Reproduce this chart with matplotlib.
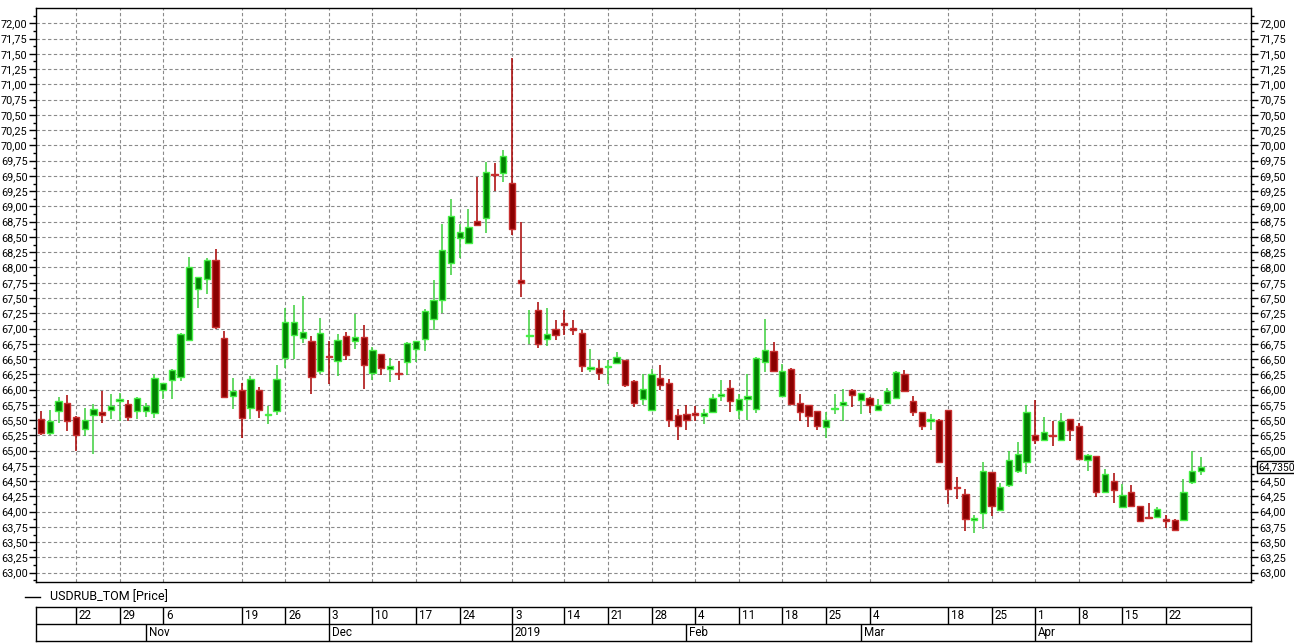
import matplotlib
matplotlib.use('Agg')
import matplotlib.pyplot as plt
import numpy as np
import pandas as pd
from matplotlib.ticker import MultipleLocator, FuncFormatter, FixedLocator, FixedFormatter
from matplotlib.transforms import blended_transform_factory

# ---------------- data ----------------
holidays = ['2018-11-05', '2018-12-31', '2019-01-01', '2019-01-02', '2019-01-07', '2019-03-08']
extra_days = ['2018-12-29']
_d = pd.bdate_range('2018-10-16', '2019-04-26')
_d = _d[~_d.isin(pd.to_datetime(holidays))].union(pd.to_datetime(extra_days))
dates = [d.strftime('%Y-%m-%d') for d in _d]

opens = [65.51, 65.29, 65.65, 65.78, 65.55, 65.36, 65.58, 65.64, 65.66, 65.82, 65.77, 65.65,
         65.65, 65.61, 65.99, 66.15, 66.21, 66.82, 67.64, 67.81, 68.12, 66.84, 65.89, 65.99,
         65.70, 66.00, 65.58, 65.65, 66.51, 66.89, 66.84, 66.80, 66.30,
         66.55, 66.47, 66.87, 66.79, 66.86, 66.27, 66.58, 66.34, 66.27, 66.46, 66.67, 66.83,
         67.16, 67.46, 68.08, 68.49, 68.40, 68.76, 68.81, 69.53, 69.55,
         69.39, 67.80, 66.87, 67.31, 66.83, 67.00, 67.09, 67.01, 66.92, 66.33, 66.35, 66.37,
         66.43, 66.48, 66.14, 65.84, 65.67, 66.19, 66.11, 65.58,
         65.60, 65.61, 65.56, 65.64, 65.90, 66.03, 65.67, 65.84, 65.68, 66.45, 66.64, 65.90,
         66.33, 65.78, 65.74, 65.65, 65.38, 65.68, 65.75, 66.00,
         65.83, 65.87, 65.66, 65.78, 65.87, 66.26, 65.82, 65.64, 65.48, 65.50, 65.66, 64.41,
         64.29, 63.86, 63.98, 64.65, 64.03, 64.43, 64.66, 64.81,
         65.25, 65.18, 65.26, 65.18, 65.52, 65.41, 64.85, 64.91, 64.33, 64.50, 64.07, 64.32,
         64.09, 63.92, 63.92, 63.88, 63.86, 63.87, 64.49, 64.66]
highs = [65.65, 65.66, 65.88, 65.91, 65.56, 65.70, 65.77, 65.98, 65.92, 65.95, 65.83, 65.88,
         65.78, 66.26, 66.11, 66.33, 66.92, 68.18, 67.85, 68.15, 68.30, 66.96, 66.19, 66.11,
         66.22, 66.04, 65.73, 66.40, 67.34, 67.38, 67.53, 66.88, 67.17,
         66.80, 66.91, 66.94, 67.24, 67.06, 66.69, 66.59, 66.52, 66.47, 66.78, 66.80, 67.32,
         67.79, 68.71, 69.13, 68.72, 68.96, 69.48, 69.73, 69.71, 69.93,
         71.44, 68.74, 67.31, 67.43, 67.33, 67.14, 67.31, 67.14, 66.97, 66.67, 66.49, 66.49,
         66.61, 66.49, 66.15, 66.26, 66.34, 66.41, 66.18, 65.68,
         65.75, 65.73, 65.68, 65.93, 66.15, 66.15, 65.93, 66.26, 66.53, 67.15, 66.78, 66.42,
         66.35, 65.93, 65.75, 65.65, 65.63, 65.93, 66.01, 66.01,
         65.95, 65.88, 65.85, 66.03, 66.30, 66.32, 65.89, 65.64, 65.60, 65.51, 65.66, 64.56,
         64.37, 63.94, 64.82, 64.65, 64.47, 64.99, 65.14, 65.75,
         65.83, 65.55, 65.48, 65.61, 65.52, 65.45, 64.94, 64.91, 64.70, 64.63, 64.45, 64.44,
         64.09, 64.14, 64.07, 63.94, 63.88, 64.54, 65.00, 64.89]
lows = [65.26, 65.25, 65.46, 65.32, 65.00, 65.24, 64.95, 65.46, 65.51, 65.48, 65.49, 65.52,
        65.55, 65.54, 65.84, 65.84, 66.14, 66.79, 67.34, 67.56, 67.00, 65.87, 65.68, 65.20,
        65.51, 65.54, 65.43, 65.59, 66.36, 66.50, 66.77, 65.93, 66.25,
        66.09, 66.23, 66.49, 66.67, 66.01, 66.16, 66.24, 66.13, 66.16, 66.24, 66.45, 66.63,
        66.97, 67.25, 67.88, 68.16, 68.40, 68.69, 68.56, 69.25, 69.40,
        68.54, 67.52, 66.75, 66.68, 66.72, 66.81, 66.89, 66.90, 66.28, 66.28, 66.15, 66.09,
        66.42, 66.04, 65.71, 65.74, 65.67, 66.00, 65.38, 65.17,
        65.34, 65.48, 65.44, 65.64, 65.82, 65.64, 65.52, 65.50, 65.61, 66.28, 66.28, 65.89,
        65.76, 65.49, 65.38, 65.33, 65.20, 65.60, 65.49, 65.72,
        65.60, 65.61, 65.65, 65.77, 65.87, 65.96, 65.56, 65.33, 65.33, 64.80, 64.13, 64.21,
        63.68, 63.65, 63.72, 63.93, 64.03, 64.41, 64.64, 64.62,
        65.11, 65.18, 65.07, 65.18, 65.16, 64.84, 64.66, 64.24, 64.32, 64.14, 64.06, 64.09,
        63.84, 63.88, 63.91, 63.74, 63.69, 63.87, 64.45, 64.60]
closes = [65.29, 65.48, 65.81, 65.49, 65.25, 65.50, 65.68, 65.59, 65.73, 65.84, 65.55, 65.87,
          65.73, 66.19, 66.10, 66.32, 66.91, 68.00, 67.84, 68.12, 67.02, 65.88, 65.98, 65.54,
          66.17, 65.66, 65.60, 66.18, 67.11, 67.11, 66.95, 66.21, 66.93,
          66.53, 66.82, 66.57, 66.86, 66.40, 66.65, 66.35, 66.38, 66.25, 66.77, 66.79, 67.28,
          67.47, 68.29, 68.84, 68.58, 68.66, 68.70, 69.56, 69.51, 69.82,
          68.63, 67.75, 66.90, 66.75, 66.91, 66.89, 67.06, 66.97, 66.38, 66.37, 66.27, 66.39,
          66.53, 66.08, 65.78, 66.01, 66.26, 66.07, 65.50, 65.40,
          65.50, 65.59, 65.62, 65.87, 65.92, 65.81, 65.85, 65.89, 66.52, 66.65, 66.30, 66.30,
          65.77, 65.64, 65.56, 65.40, 65.50, 65.70, 65.80, 65.91,
          65.94, 65.75, 65.74, 65.97, 66.28, 65.97, 65.63, 65.40, 65.52, 64.81, 64.37, 64.39,
          63.88, 63.89, 64.66, 64.09, 64.40, 64.85, 64.95, 65.63,
          65.18, 65.30, 65.24, 65.49, 65.34, 64.87, 64.93, 64.32, 64.62, 64.36, 64.27, 64.10,
          63.85, 63.90, 64.05, 63.84, 63.70, 64.32, 64.66, 64.735]

week_starts = ['2018-10-22', '2018-10-29', '2018-11-06', '2018-11-19', '2018-11-26', '2018-12-03',
               '2018-12-10', '2018-12-17', '2018-12-24', '2019-01-03', '2019-01-14', '2019-01-21',
               '2019-01-28', '2019-02-04', '2019-02-11', '2019-02-18', '2019-02-25', '2019-03-04',
               '2019-03-18', '2019-03-25', '2019-04-01', '2019-04-08', '2019-04-15', '2019-04-22']
week_labels = ['22', '29', '6', '19', '26', '3', '10', '17', '24', '3', '14', '21',
               '28', '4', '11', '18', '25', '4', '18', '25', '1', '8', '15', '22']
month_starts = ['2018-11-01', '2018-12-03', '2019-01-03', '2019-02-01', '2019-03-01', '2019-04-01']
month_labels = ['Nov', 'Dec', '2019', 'Feb', 'Mar', 'Apr']
price_ticks = [63.00, 63.25, 63.50, 63.75, 64.00, 64.25, 64.50, 64.75, 65.00, 65.25, 65.50,
               65.75, 66.00, 66.25, 66.50, 66.75, 67.00, 67.25, 67.50, 67.75, 68.00, 68.25,
               68.50, 68.75, 69.00, 69.25, 69.50, 69.75, 70.00, 70.25, 70.50, 70.75, 71.00,
               71.25, 71.50, 71.75, 72.00]
last_price = 64.7350
series_name = 'USDRUB_TOM [Price]'

# ---------------- style ----------------
FONT = ['Roboto', 'DejaVu Sans']
plt.rcParams['font.family'] = FONT
W, H = 1294, 644
fig = plt.figure(figsize=(W / 100, H / 100), dpi=100)
fig.patch.set_facecolor('white')

def fx(px):
    return px / W

def fy(py):
    return 1 - py / H

def fmt(v):
    return f'{v:.2f}'.replace('.', ',')

L, R, T, B = 36, 1251, 8.3, 582.3
YLIM = (62.843, 72.246)
ax = fig.add_axes([fx(L), fy(B), fx(R - L), (B - T) / H])

x = np.arange(len(dates))
o = np.array(opens); h = np.array(highs); lo = np.array(lows); c = np.array(closes)
up = c >= o
dn = ~up

GREEN_FACE, GREEN_EDGE, GREEN_WICK = '#008000', '#45f045', '#3ccf3c'
RED_FACE, RED_EDGE, RED_WICK = '#8a0000', '#c83030', '#a80000'

ax.vlines(x[up], lo[up], h[up], color=GREEN_WICK, linewidth=1.1, zorder=3)
ax.vlines(x[dn], lo[dn], h[dn], color=RED_WICK, linewidth=1.1, zorder=3)
bw = 0.72
ax.bar(x[up], c[up] - o[up], bottom=o[up], width=bw, color=GREEN_FACE,
       edgecolor=GREEN_EDGE, linewidth=1.0, zorder=4)
ax.bar(x[dn], c[dn] - o[dn], bottom=o[dn], width=bw, color=RED_FACE,
       edgecolor=RED_EDGE, linewidth=1.0, zorder=4)

xmin, xmax = -0.585, 138.75
ax.set_xlim(xmin, xmax)
ax.set_ylim(*YLIM)

week_idx = [dates.index(d) for d in week_starts]
month_idx = [dates.index(d) for d in month_starts]

ax.set_xticks(week_idx)
ax.tick_params(axis='x', length=0, labelbottom=False)
ax.yaxis.set_major_locator(FixedLocator(price_ticks))
ax.yaxis.set_minor_locator(MultipleLocator(0.125))
ax.yaxis.set_major_formatter(FuncFormatter(lambda v, p: fmt(v)))
ax.tick_params(axis='y', which='major', direction='out', length=5, width=1, pad=1,
               left=True, right=False, labelleft=True, labelright=False, labelsize=7.8,
               colors='black')
ax.tick_params(axis='y', which='minor', direction='out', length=2.5, width=1,
               left=True, right=False)
ax.grid(True, which='major', axis='both', color='#8a8a8a', linestyle=(0, (3, 2.2)),
        linewidth=0.8, zorder=0)
ax.set_axisbelow(True)
for s in ax.spines.values():
    s.set_color('black')
    s.set_linewidth(1.0)

# right price axis (label at the last-price level is covered by the price box)
axr = ax.twinx()
axr.set_ylim(*YLIM)
right_labels = ['' if abs(v - round(last_price * 4) / 4) < 1e-9 else fmt(v) for v in price_ticks]
axr.yaxis.set_major_locator(FixedLocator(price_ticks))
axr.yaxis.set_major_formatter(FixedFormatter(right_labels))
axr.yaxis.set_minor_locator(MultipleLocator(0.125))
axr.tick_params(axis='y', which='major', direction='out', length=5, width=1, pad=1,
                labelsize=7.8, colors='black')
axr.tick_params(axis='y', which='minor', direction='out', length=2.5, width=1)
for s in axr.spines.values():
    s.set_visible(False)

# last price box on right axis
trans = blended_transform_factory(axr.transAxes, axr.transData)
axr.annotate(f'{last_price:.4f}'.replace('.', ','), xy=(1, last_price), xycoords=trans,
             xytext=(7, 0), textcoords='offset pixels', va='center', ha='left',
             fontsize=7.4, annotation_clip=False, zorder=10,
             bbox=dict(boxstyle='square,pad=0.12', facecolor='white', edgecolor='black',
                       linewidth=1.0))

# legend
fig.add_artist(plt.Line2D([fx(25), fx(40)], [fy(597), fy(597)], color='black', linewidth=1))
fig.text(fx(50), fy(597), series_name, fontsize=9, va='center', ha='left')

# date table
dax = fig.add_axes([fx(L), fy(640.7), fx(R - L), (640.7 - 607.3) / H])
dax.set_xlim(xmin, xmax)
dax.set_ylim(0, 1)
dax.set_xticks([]); dax.set_yticks([])
for s in dax.spines.values():
    s.set_color('black')
    s.set_linewidth(1.0)
dax.axhline(0.5, color='black', linewidth=1.0)
dax.vlines(week_idx, 0.5, 1, color='black', linewidth=1.0)
dax.vlines(month_idx, 0, 0.5, color='black', linewidth=1.0)
for i, lab in zip(week_idx, week_labels):
    dax.annotate(lab, xy=(i, 0.75), xytext=(3, 0), textcoords='offset pixels',
                 va='center', ha='left', fontsize=8.4)
for i, lab in zip(month_idx, month_labels):
    dax.annotate(lab, xy=(i, 0.25), xytext=(3, 0), textcoords='offset pixels',
                 va='center', ha='left', fontsize=8.4)

fig.savefig('out.png', dpi=100, facecolor='white')
